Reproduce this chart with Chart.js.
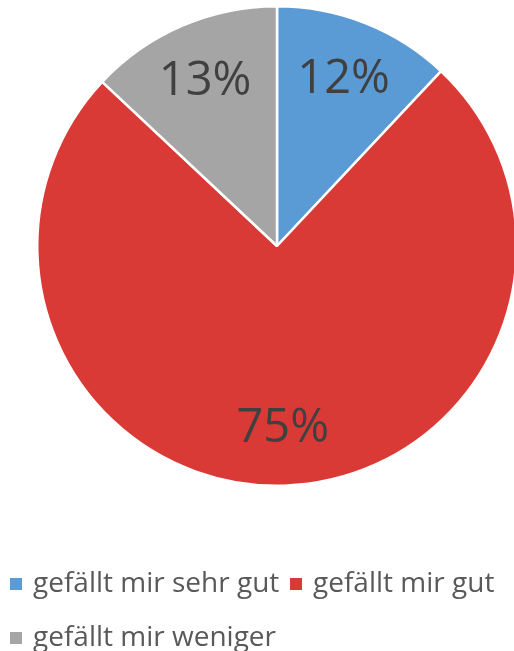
<!DOCTYPE html>
<html>
<head>
<meta charset="utf-8">
<script src="https://cdn.jsdelivr.net/npm/chart.js@4"></script>
<style>
  html, body { margin: 0; padding: 0; background: #fff; overflow: hidden; }
  #wrap { position: relative; width: 514px; height: 651px; overflow: hidden; }
  #pie-box { position: absolute; left: 0; top: 0; width: 518px; height: 651px; }
  #legend { position: absolute; left: 0; top: 565px; width: 514px; font-family: 'Open Sans', sans-serif; font-size: 28px; color: #595959; }
  .item { position: absolute; white-space: nowrap; line-height: 32px; }
  .item i { display: inline-block; width: 12px; height: 12px; margin-right: 11px; vertical-align: 2px; }
</style>
</head>
<body>
<div id="wrap">
  <div id="pie-box"><canvas id="pie-chart"></canvas></div>
  <div id="legend"></div>
</div>
<script>
const labels = ['gefällt mir sehr gut', 'gefällt mir gut', 'gefällt mir weniger'];
const values = [12, 75, 13];
const colors = ['#5B9BD5', '#DA3A35', '#A5A5A5'];

// percentage labels inside the slices
const sliceLabels = {
  id: 'sliceLabels',
  afterDatasetsDraw(chart) {
    const c = chart.ctx;
    const total = values.reduce((a, b) => a + b, 0);
    c.save();
    c.font = '47px "Open Sans", sans-serif';
    c.fillStyle = '#404040';
    c.textAlign = 'center';
    c.textBaseline = 'middle';
    chart.getDatasetMeta(0).data.forEach((arc, i) => {
      const p = arc.getProps(['x', 'y', 'startAngle', 'endAngle', 'outerRadius']);
      const mid = (p.startAngle + p.endAngle) / 2;
      const r = p.outerRadius * 0.755;
      c.fillText(Math.round(values[i] / total * 100) + '%', p.x + Math.cos(mid) * r, p.y + Math.sin(mid) * r + 2);
    });
    c.restore();
  }
};

const pieChart = new Chart(document.getElementById('pie-chart'), {
  type: 'pie',
  data: {
    labels: labels,
    datasets: [{
      data: values,
      backgroundColor: colors,
      borderColor: '#fff',
      borderWidth: 2.5
    }]
  },
  options: {
    responsive: true,
    maintainAspectRatio: false,
    animation: false,
    layout: {
      padding: { left: 36, right: 0, top: 5, bottom: 164 }
    },
    plugins: {
      legend: { display: false },
      tooltip: { enabled: false }
    }
  },
  plugins: [sliceLabels]
});

// html legend, laid out like the original (two items on first row)
const legendPos = [[10, 0], [290, 0], [10, 54]];
const legend = document.getElementById('legend');
labels.forEach((l, i) => {
  const d = document.createElement('div');
  d.className = 'item';
  d.style.left = legendPos[i][0] + 'px';
  d.style.top = legendPos[i][1] + 'px';
  d.innerHTML = '<i style="background:' + colors[i] + '"></i>' + l;
  legend.appendChild(d);
});
</script>
</body>
</html>
